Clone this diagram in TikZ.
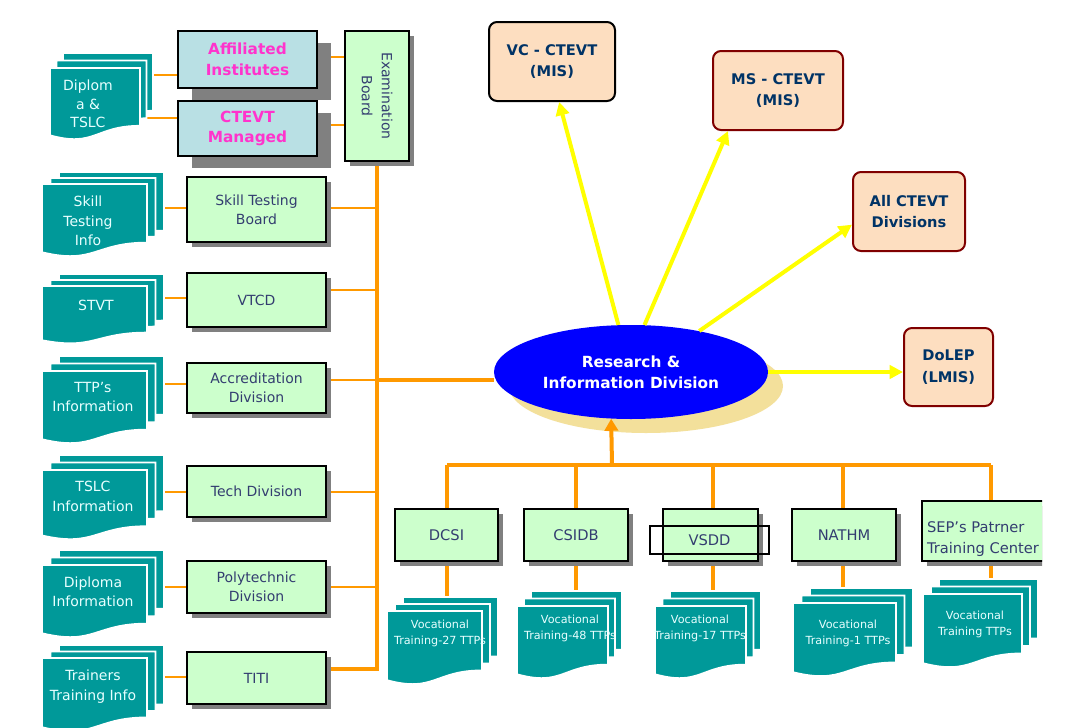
\documentclass[tikz,border=0pt]{standalone}
\usepackage{fontspec}
\setmainfont{DejaVu Sans}
\usetikzlibrary{shapes.geometric,shadows,arrows.meta,calc,backgrounds}
\definecolor{tealc}{RGB}{0,153,153}
\definecolor{gfill}{RGB}{204,255,204}
\definecolor{bfill}{RGB}{185,224,228}
\definecolor{orng}{RGB}{255,153,0}
\definecolor{yel}{RGB}{255,255,0}
\definecolor{peach}{RGB}{253,222,192}
\definecolor{dred}{RGB}{128,0,0}
\definecolor{navy}{RGB}{0,51,102}
\definecolor{gtext}{RGB}{51,61,112}
\definecolor{mag}{RGB}{255,51,204}
\definecolor{shd}{RGB}{128,128,128}
\definecolor{eshd}{RGB}{243,224,155}
\definecolor{dtext}{RGB}{232,255,255}
\newcommand\fs[2]{\fontsize{#1}{#2}\selectfont}
% one sheet: x0, y0 (top-left), w, h
\newcommand\docsheet[4]{%
  \path[fill=tealc,draw=white,line width=1.2pt] (#1,#2) -- ++(#3,0) -- (#1+#3,#2+0.802*#4)
    .. controls (#1+0.5*#3,#2+0.802*#4) and (#1+0.5*#3,#2+1.107*#4) .. (#1,#2+0.934*#4) -- cycle;}
% stack: name, x0, y0, w, h, dx, dy
\newcommand\docstack[7]{%
  \docsheet{#2+2*#6}{#3-2*#7}{#4}{#5}%
  \docsheet{#2+#6}{#3-#7}{#4}{#5}%
  \docsheet{#2}{#3}{#4}{#5}%
  \coordinate (#1top) at (#2+2*#6+0.5*#4,#3-2*#7);}
\begin{document}
\begin{tikzpicture}[x=0.75pt,y=-0.75pt,
  sz/.style 2 args={minimum width=#1*0.75pt,minimum height=#2*0.75pt},
  gbox/.style={draw=black,line width=1.5pt,fill=gfill,text=gtext,font=\fs{10.5}{14},align=center,inner sep=0pt,
     drop shadow={shadow xshift=3.5pt,shadow yshift=-3.5pt,fill=shd,opacity=1}},
  bbox/.style={draw=black,line width=1.5pt,fill=bfill,text=mag,font=\bfseries\fs{11.5}{15.5},align=center,inner sep=0pt,
     drop shadow={shadow xshift=10.5pt,shadow yshift=-9pt,fill=shd,opacity=1}},
  rbox/.style={draw=dred,line width=1.5pt,fill=peach,rounded corners=6pt,text=navy,font=\bfseries\fs{11}{16},align=center,inner sep=0pt},
  dtxt/.style={text=dtext,font=\fs{10.5}{14.5},align=center,inner sep=0pt},
  vtxt/.style={text=dtext,font=\fs{8.4}{12.5},align=center,inner sep=0pt},
  olink/.style={draw=orng,line width=2.2pt},
  obus/.style={draw=orng,line width=3pt},
  yarr/.style={draw=yel,line width=3pt,-{Triangle[length=10pt,width=10pt]}},
]
\useasboundingbox (0,0) rectangle (1085,728);
\begin{scope}[on background layer]
\fill[white] (0,0) rectangle (1085,728);
\end{scope}

% ---------- document stacks ----------
\docstack{s1}{50}{68}{90}{72}{6.5}{7.5}
\docstack{s2}{42}{184}{105}{73}{8.5}{6}
\docstack{s3}{42}{286}{105}{58}{8.5}{6}
\docstack{s4}{42}{371}{105}{73}{8.5}{7.5}
\docstack{s5}{42}{470}{105}{70}{8.5}{7.5}
\docstack{s6}{42}{565}{105}{73}{8.5}{7.5}
\docstack{s7}{42}{658}{105}{74}{8.5}{6.5}
\docstack{s8}{387}{611}{95}{74}{8}{7}
\docstack{s9}{517}{606}{91}{73}{7}{7.5}
\docstack{s10}{655}{606}{91}{73}{7.5}{7.5}
\docstack{s11}{793}{603}{103}{74}{8.5}{7.5}
\docstack{s12}{923}{594}{99}{74}{8}{7.5}

\node[dtxt,font=\fs{10.5}{14}] (t1) at (88,104) {Diplom\\a \&\\TSLC};
\node[dtxt] (t2) at (88,221) {Skill\\Testing\\Info};
\node[dtxt] (t3) at (96,305) {STVT};
\node[dtxt] (t4) at (93,397) {TTP’s\\Information};
\node[dtxt] (t5) at (93,496.5) {TSLC\\Information};
\node[dtxt] (t6) at (93,592) {Diploma\\Information};
\node[dtxt] (t7) at (93,686.5) {Trainers\\Training Info};
\node[vtxt] (t8) at (440,633.5) {Vocational\\Training-27 TTPs};
\node[vtxt] (t9) at (570,628.5) {Vocational\\Training-48 TTPs};
\node[vtxt] (t10) at (700,628.5) {Vocational\\Training-17 TTPs};
\node[vtxt] (t11) at (848,633.5) {Vocational\\Training-1 TTPs};
\node[vtxt,font=\fs{8.4}{11.5}] (t12) at (975,624.5) {Vocational\\Training TTPs};

% ---------- top boxes ----------
\node[bbox,sz={139}{57}] (affil) at (247.5,59.5) {Affiliated\\Institutes};
\node[bbox,sz={139}{55}] (ctevt) at (247.5,128.5) {CTEVT\\Managed};
\node[gbox,sz={64}{130}] (exam) at (377,96) {};
\node[rotate=-90,text=gtext,font=\fs{10.5}{15},align=center,inner sep=0pt] (examT) at (exam.center) {Examination\\Board};

% ---------- left green boxes ----------
\node[gbox,sz={139}{65}] (stb) at (256.5,209.5) {Skill Testing\\Board};
\node[gbox,sz={139}{54}] (vtcd) at (256.5,300) {VTCD};
\node[gbox,sz={139}{50}] (acc) at (256.5,388) {Accreditation\\Division};
\node[gbox,sz={139}{51}] (tech) at (256.5,491.5) {Tech Division};
\node[gbox,sz={139}{52}] (poly) at (256.5,587) {Polytechnic\\Division};
\node[gbox,sz={139}{52}] (titi) at (256.5,678) {TITI};

% ---------- bottom green boxes ----------
\node[gbox,font=\fs{11}{15},sz={103}{52}] (dcsi) at (446.5,535) {DCSI};
\node[gbox,font=\fs{11}{15},sz={104}{52}] (csidb) at (576,535) {CSIDB};
\node[gbox,sz={95}{52}] (vsdd) at (710.5,535) {};
\node[draw=black,line width=0.8pt,sz={119}{28},text=gtext,font=\fs{11}{15},inner sep=0pt] (vsddT) at (709.5,540) {VSDD};
\node[gbox,font=\fs{11}{15},sz={104}{52}] (nathm) at (844,535) {NATHM};
\begin{scope}
\clip (900,480) rectangle (1042,580);
\node[gbox,sz={138}{60}] (sep) at (991,531) {};
\node[text=gtext,font=\fs{11}{16},align=left,inner sep=0pt] (sepT) at (983,539) {SEP’s Patrner\\Training Center};
\end{scope}

% ---------- ellipse ----------
\fill[eshd] (646,386) ellipse [x radius=102.75pt,y radius=35.25pt];
\node[ellipse,fill=blue,sz={274}{94},inner sep=0pt,text=white,font=\bfseries\fs{11.5}{15.75},align=center] (rid) at (631,372) {Research \&\\Information Division};

% ---------- right boxes ----------
\node[rbox,draw=black,sz={126}{79}] (vc) at (552,61.5) {VC - CTEVT\\(MIS)};
\node[rbox,sz={130}{79}] (ms) at (778,90.5) {MS - CTEVT\\(MIS)};
\node[rbox,sz={112}{79}] (all) at (909,211.5) {All CTEVT\\Divisions};
\node[rbox,sz={89}{78}] (dolep) at (948.5,367) {DoLEP\\(LMIS)};

% ---------- coordinates ----------
\coordinate (c1a) at (154,75);
\coordinate (c1b) at (142,118);
\coordinate (e1) at (exam.west |- 0,57);
\coordinate (e2) at (exam.west |- 0,125);
\coordinate (l2) at (165,208); \coordinate (r2) at (377,208);
\coordinate (l3) at (165,298); \coordinate (r3) at (377,290);
\coordinate (l4) at (165,384); \coordinate (r4) at (377,380);
\coordinate (l5) at (165,492); \coordinate (r5) at (377,492);
\coordinate (l6) at (165,587); \coordinate (r6) at (377,587);
\coordinate (l7) at (165,677); \coordinate (r7) at (377,669);
\coordinate (bb1) at (447,465);
\coordinate (bb2) at (576,465);
\coordinate (bb3) at (713,465);
\coordinate (bb4) at (843,465);
\coordinate (bb5) at (991,465);
\coordinate (bup) at (612,465);

\begin{scope}[on background layer]
\draw[olink] (c1a) -- (c1a -| affil.west);
\draw[olink] (c1b) -- (c1b -| ctevt.west);
\draw[olink] (e1 -| affil.east) -- (e1);
\draw[olink] (e2 -| ctevt.east) -- (e2);
\draw[olink] (l2) -- (l2 -| stb.west);   \draw[olink] (r2 -| stb.east) -- (r2);
\draw[olink] (l3) -- (l3 -| vtcd.west);  \draw[olink] (r3 -| vtcd.east) -- (r3);
\draw[olink] (l4) -- (l4 -| acc.west);   
\draw[olink] (l5) -- (l5 -| tech.west);  \draw[olink] (r5 -| tech.east) -- (r5);
\draw[olink] (l6) -- (l6 -| poly.west);  \draw[olink] (r6 -| poly.east) -- (r6);
\draw[olink] (l7) -- (l7 -| titi.west);
\draw[olink] (r4 -| acc.east) -- (r4);
\draw[obus] (exam.south) -- (r7) -- (r7 -| titi.east);
\draw[orng,line width=3.4pt] (r4) -- (r4 -| rid.west);
\draw[obus] (bb1) -- (bb5);
\draw[obus] (bb1) -- (bb1 |- dcsi.north);
\draw[obus] (bb2) -- (bb2 |- csidb.north);
\draw[obus] (bb3) -- (bb3 |- vsdd.north);
\draw[obus] (bb4) -- (bb4 |- nathm.north);
\draw[obus] (bb5) -- (sep.north);
\draw[obus] (bb1 |- dcsi.south) -- (bb1 |- s8top);
\draw[obus] (bb2 |- csidb.south) -- (bb2 |- s9top);
\draw[obus] (bb3 |- vsdd.south) -- (bb3 |- s10top);
\draw[obus] (bb4 |- nathm.south) -- (bb4 |- s11top);
\draw[obus] (sep.south) -- (sep.south |- s12top);
\end{scope}

% ---------- arrows ----------
\draw[obus,-{Triangle[length=9pt,width=10pt]}] (bup) -- (rid.247.8);
\draw[yarr] (rid.105.5) -- (vc.280);
\draw[yarr] (rid.74.5) -- (ms.219.5);
\draw[yarr] (rid.31.8) -- (all.193.5);
\draw[yarr] (rid.east) -- (rid.east -| dolep.west);
\end{tikzpicture}
\end{document}
